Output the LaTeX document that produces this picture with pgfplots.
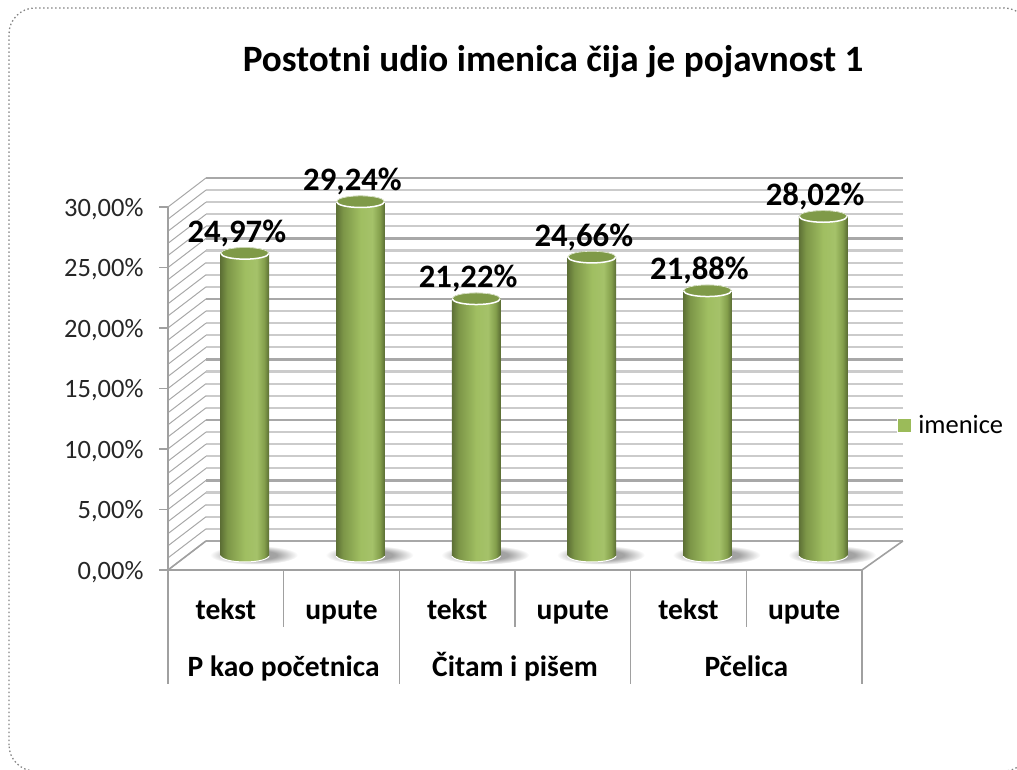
\documentclass[border=0pt]{standalone}
\usepackage{fontspec}
\setmainfont{Carlito}
\usepackage{pgfplots}
\pgfplotsset{compat=1.18}
\definecolor{gridminor}{HTML}{CBCBCB}
\definecolor{gridmajor}{HTML}{A8A8A8}
\definecolor{axisgrey}{HTML}{A0A0A0}
\definecolor{cyltop}{HTML}{7F9A48}
\definecolor{legendgreen}{HTML}{9BBB59}
\pgfdeclarehorizontalshading{cyl}{100bp}{color(0bp)=(black!40!legendgreen); color(25bp)=(black!40!legendgreen); color(32bp)=(black!20!legendgreen); color(50bp)=(legendgreen!95!white); color(62bp)=(legendgreen!90!white); color(70bp)=(black!15!legendgreen); color(75bp)=(black!42!legendgreen); color(100bp)=(black!42!legendgreen)}
\pgfdeclareradialshading{cylshadow}{\pgfpointorigin}{color(0bp)=(black!38); color(13bp)=(black!36); color(25bp)=(white); color(50bp)=(white)}
\pgfdeclareplotmark{cyltopmark}{
  \fill[cyltop,rotate=4] (0,0) ellipse [x radius=24pt,y radius=5.8pt];
  \draw[white,line width=1.5pt,rotate=4] (-24pt,0) arc [start angle=180,end angle=360,x radius=24pt,y radius=5.8pt];
  \draw[white!80!cyltop,line width=0.6pt,rotate=4] (-24pt,0) arc [start angle=180,end angle=0,x radius=24pt,y radius=5.8pt];}
\pgfdeclareplotmark{cylshadowmark}{
  \shade[shading=cylshadow,draw=none] (9pt,0.5pt) ellipse [x radius=44pt,y radius=9.5pt];}
\pgfdeclareplotmark{cylbasemark}{
  \shade[shading=cyl,draw=none] (-24.3pt,0.5pt) -- (-24.3pt,0) arc [start angle=180,end angle=360,x radius=24.3pt,y radius=6.5pt] -- (24.3pt,0.5pt) -- cycle;
  \draw[white,line width=1pt] (-24.3pt,0) arc [start angle=180,end angle=360,x radius=24.3pt,y radius=6.5pt];}
\newcommand{\fsA}{\fontsize{26.5}{30}\selectfont}
\newcommand{\fsB}{\fontsize{29.5}{34}\selectfont\bfseries}
\newcommand{\fsC}{\fontsize{32.7}{38}\selectfont\bfseries}
\newcommand{\fsT}{\fontsize{37.2}{42}\selectfont\bfseries}
\pgfplotsset{cylbar/.style={ybar,bar width=48.6pt,bar shift=0pt,draw=none,shade,shading=cyl,forget plot}}
\begin{document}
\begin{tikzpicture}[x=1pt,y=1pt]
\useasboundingbox (0,0) rectangle (1017,769);
\begin{scope}
\clip (0,0) rectangle (1017,769);
\draw[color=black!48,line width=1.3pt,dash pattern=on 1.5pt off 2.5pt,rounded corners=26pt] (9,-2) rectangle (1030,761);
\end{scope}
\node[font=\fsT] at (553,707.5) {Postotni udio imenica čija je pojavnost 1};
% back wall
\begin{axis}[name=back,at={(206pt,228pt)},anchor=south west,scale only axis,width=697pt,height=363pt,
  xmin=0,xmax=6,ymin=0,ymax=30,axis line style={draw=none},xtick=\empty,ytick={0,5,...,30},
  yticklabels={},minor y tick num=4,major tick length=0pt,minor tick length=0pt,
  ymajorgrids,yminorgrids,
  major grid style={gridmajor,line width=2.2pt},minor grid style={gridminor,line width=2.2pt}]
\end{axis}
% front plane
\begin{axis}[name=front,at={(168pt,199pt)},anchor=south west,scale only axis,width=694pt,height=363pt,
  xmin=0,xmax=6,ymin=0,ymax=30,clip=false,
  axis y line=left,axis x line=bottom,axis line style={axisgrey,line width=1.6pt,-},
  xtick=\empty,ytick={0,5,...,30},
  yticklabels={{0,00\%},{5,00\%},{10,00\%},{15,00\%},{20,00\%},{25,00\%},{30,00\%}},
  major tick length=0pt,
  yticklabel style={font=\fsA,text=black!85,xshift=-21pt,yshift=-2pt}]
\pgfplotsinvokeforeach{0,...,30}{
  \draw[color=black!34,line width=1pt] (axis cs:0,#1) -- (axis cs:0.3285,{#1+2.4});
}
\draw[axisgrey,line width=1.8pt] (axis cs:0,0) -- (axis cs:0,30);
\pgfplotsinvokeforeach{0,5,...,30}{\draw[axisgrey,line width=1.6pt] (axis cs:0,#1) -- (axis cs:-0.078,#1);}
\draw[axisgrey,line width=1.6pt] (axis cs:0,0) -- (axis cs:0.3285,2.4);
\draw[axisgrey,line width=1.6pt] (axis cs:6,0) -- (axis cs:6.354,2.4);
\pgfplotsinvokeforeach{1,3,5}{\draw[axisgrey,line width=1.6pt] (axis cs:#1,0) -- (axis cs:#1,-4.71);}
\pgfplotsinvokeforeach{0,2,4,6}{\draw[axisgrey,line width=1.6pt] (axis cs:#1,0) -- (axis cs:#1,-9.42);}
\pgfplotsinvokeforeach{0.5,2.5,4.5}{\node[font=\fsB,anchor=base] at (axis cs:#1,-4.05) {tekst};}
\pgfplotsinvokeforeach{1.5,3.5,5.5}{\node[font=\fsB,anchor=base] at (axis cs:#1,-4.05) {upute};}
\node[font=\fsB,anchor=base] at (axis cs:1,-8.84) {P kao početnica};
\node[font=\fsB,anchor=base] at (axis cs:3,-8.84) {Čitam i pišem};
\node[font=\fsB,anchor=base] at (axis cs:5,-8.84) {Pčelica};
\end{axis}
% floor shadows and cylinder bases
\begin{axis}[name=bases,at={(187pt,213.5pt)},anchor=south west,scale only axis,width=694pt,height=363pt,
  xmin=0,xmax=6,ymin=0,ymax=30,clip=false,axis lines=none]
\addplot[only marks,mark=cylshadowmark] coordinates {(0.5,0)(1.5,0)(2.5,0)(3.5,0)(4.5,0)(5.5,0)};
\addplot[only marks,mark=cylbasemark] coordinates {(0.5,0)(1.5,0)(2.5,0)(3.5,0)(4.5,0)(5.5,0)};
\end{axis}
% cylinders
\begin{axis}[name=bars,at={(187pt,213.5pt)},anchor=south west,scale only axis,width=694pt,height=363pt,
  xmin=0,xmax=6,ymin=0,ymax=30,clip=false,axis lines=none,
  legend style={at={(1.023,0.36)},anchor=west,draw=none,fill=none,font=\fsA,inner sep=0pt},
  legend cell align=left]
\addplot[cylbar] coordinates {(0.5,24.97)};
\addplot[cylbar] coordinates {(1.5,29.24)};
\addplot[cylbar] coordinates {(2.5,21.22)};
\addplot[cylbar] coordinates {(3.5,24.66)};
\addplot[cylbar] coordinates {(4.5,21.88)};
\addplot[cylbar] coordinates {(5.5,28.02)};
\addplot[only marks,mark=cyltopmark,
  legend image code/.code={\path[draw=none] (0pt,0pt) -- (18pt,0pt);\fill[white] (-1pt,-7pt) rectangle (13pt,7pt);\fill[legendgreen] (0pt,-6pt) rectangle (12pt,6pt);},
  nodes near coords={\pgfmathprintnumber[fixed,fixed zerofill,precision=2,use comma,assume math mode=true]{\pgfplotspointmeta}\%},
  every node near coord/.append style={font=\fsC,anchor=center,xshift=-8pt,yshift=20pt,text=black}]
  coordinates {(0.5,24.97)(1.5,29.24)(2.5,21.22)(3.5,24.66)(4.5,21.88)(5.5,28.02)};
\addlegendentry{imenice}
\end{axis}
\end{tikzpicture}
\end{document}
